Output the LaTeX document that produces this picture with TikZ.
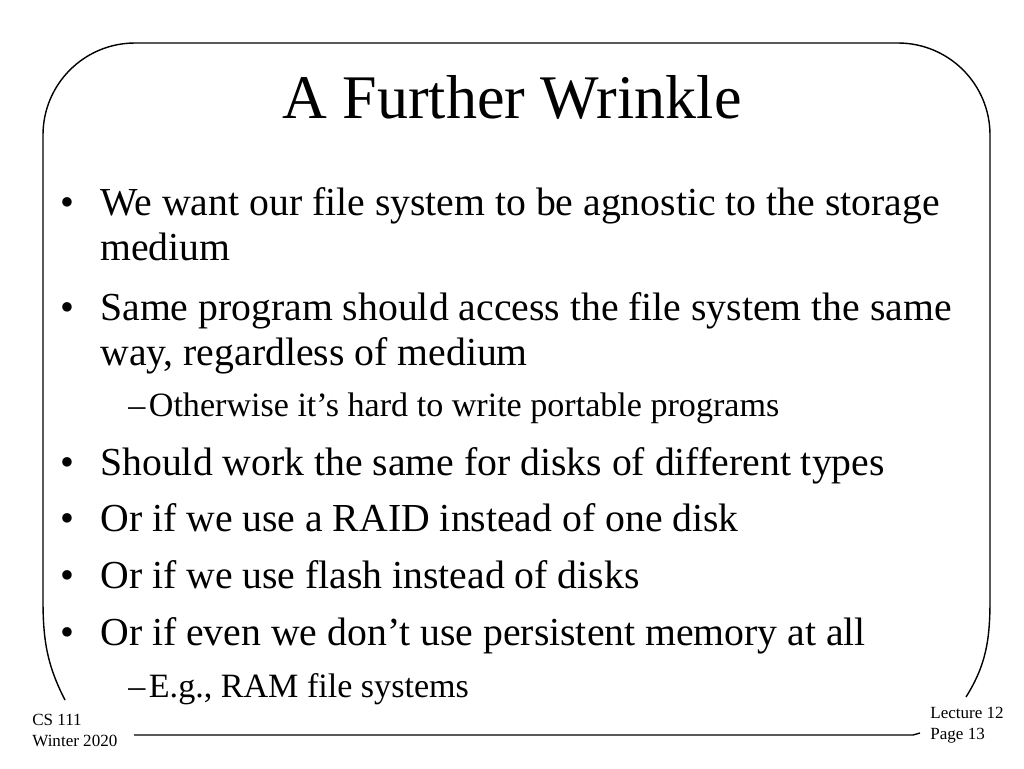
\documentclass[tikz,border=0pt]{standalone}
\usepackage{fontspec}
\setmainfont{Liberation Serif}
\begin{document}
\begin{tikzpicture}[x=0.02cm,y=-0.02cm]
\tikzstyle{txt}=[anchor=base west, inner sep=0pt, font=\fontsize{22.6}{24}\selectfont]
\tikzstyle{sub}=[anchor=base west, inner sep=0pt, font=\fontsize{19.4}{21}\selectfont]
\tikzstyle{foot}=[anchor=base west, inner sep=0pt, font=\fontsize{9.7}{11}\selectfont]
\useasboundingbox (0,0) rectangle (1024,768);
% frame
\draw[thick] (65,700) .. controls (47,665) and (43,640) .. (43,600)
  [rounded corners=1.84cm] -- (43,43) -- (990,43) [sharp corners] -- (990,600)
  .. controls (990,640) and (986,665) .. (966,697);
\node[anchor=base, inner sep=0pt, font=\fontsize{35.3}{38}\selectfont] (title) at (512,118) {A Further Wrinkle};
% bullets
\foreach \y/\t [count=\i] in {215/We want our file system to be agnostic to the storage,
  320/Same program should access the file system the same,
  475/Should work the same for disks of different types,
  531/Or if we use a RAID instead of one disk,
  588/Or if we use flash instead of disks,
  645/Or if even we don’t use persistent memory at all}{
  \node[txt] (dot\i) at (60,\y) {•};
  \node[txt] (b\i) at (100,\y) {\t};
}
\node[txt] (c1) at (100,260) {medium};
\node[txt] (c2) at (100,365) {way, regardless of medium};
\node[sub] (s1) at (128,416) {–\hspace{2pt}Otherwise it’s hard to write portable programs};
\node[sub] (s2) at (128,697) {–\hspace{2pt}E.g., RAM file systems};
% footer
\node[foot] (cs) at (32,725) {CS 111};
\node[foot] (wi) at (32,746) {Winter 2020};
\node[foot] (le) at (930,718) {Lecture 12};
\node[foot] (pg) at (930,739) {Page 13};
\draw[thick] (134,735) -- (913,735) -- (920,733);
\end{tikzpicture}
\end{document}
